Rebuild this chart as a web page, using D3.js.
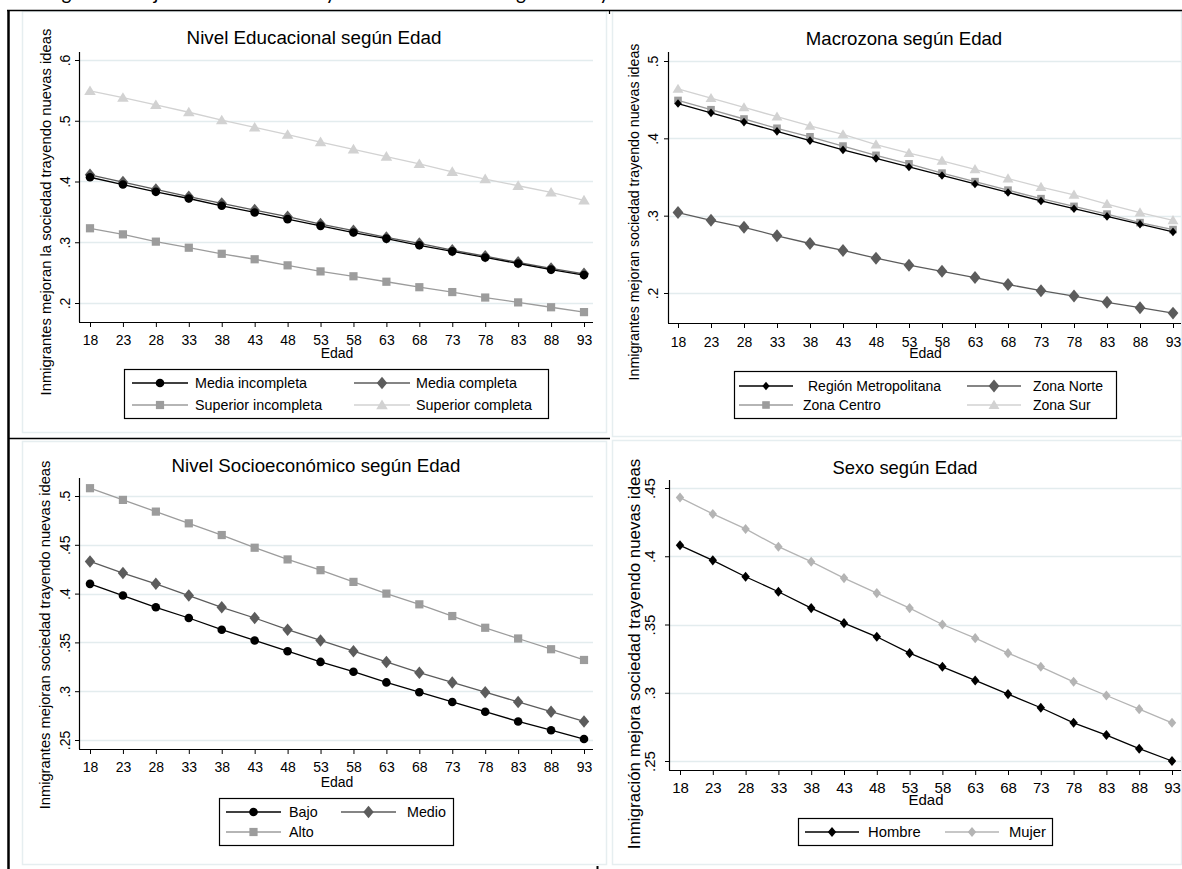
<!DOCTYPE html>
<html><head><meta charset="utf-8">
<script src="https://cdn.jsdelivr.net/npm/d3@7"></script>
<style>
html,body{margin:0;padding:0;background:#fff;}
svg{display:block;font-family:"Liberation Sans",Arial,sans-serif;}
</style></head>
<body>
<svg id="chart" width="1182" height="869"></svg>
<script>
// ---------------- DATA ----------------
const ages = [18,23,28,33,38,43,48,53,58,63,68,73,78,83,88,93];

// Panel 1: Nivel Educacional según Edad
const eduTitle = "Nivel Educacional según Edad";
const eduYLabel = "Inmigrantes mejoran la sociedad trayendo nuevas ideas";
const eduYTicks = [0.2,0.3,0.4,0.5,0.6];
const eduYTickLabels = [".2",".3",".4",".5",".6"];
const eduNames = ["Media incompleta","Media completa","Superior incompleta","Superior completa"];
const eduMediaIncompleta  = [.407,.395,.383,.372,.360,.349,.338,.327,.316,.306,.295,.285,.275,.265,.255,.246];
const eduMediaCompleta    = [.411,.399,.387,.375,.364,.353,.342,.330,.319,.308,.298,.287,.277,.267,.257,.248];
const eduSuperiorIncompleta = [.323,.313,.301,.291,.281,.272,.262,.252,.244,.235,.226,.218,.209,.201,.193,.185];
const eduSuperiorCompleta = [.549,.538,.526,.514,.501,.489,.477,.465,.453,.441,.429,.416,.404,.393,.382,.369];

// Panel 2: Macrozona según Edad
const macroTitle = "Macrozona según Edad";
const macroYLabel = "Inmigrantes mejoran sociedad trayendo nuevas ideas";
const macroYTicks = [0.2,0.3,0.4,0.5];
const macroYTickLabels = [".2",".3",".4",".5"];
const macroNames = ["Región Metropolitana","Zona Norte","Zona Centro","Zona Sur"];
const macroMetropolitana = [.445,.433,.421,.409,.397,.385,.374,.363,.352,.341,.330,.319,.309,.299,.289,.279];
const macroNorte  = [.304,.294,.285,.274,.264,.255,.245,.236,.228,.220,.211,.203,.196,.188,.181,.174];
const macroCentro = [.449,.437,.425,.413,.402,.390,.378,.367,.355,.344,.333,.322,.312,.302,.291,.282];
const macroSur    = [.464,.452,.440,.428,.416,.405,.392,.381,.371,.360,.348,.337,.327,.315,.304,.294];

// Panel 3: Nivel Socioeconómico según Edad
const nseTitle = "Nivel Socioeconómico según Edad";
const nseYLabel = "Inmigrantes mejoran sociedad trayendo nuevas ideas";
const nseYTicks = [0.25,0.3,0.35,0.4,0.45,0.5];
const nseYTickLabels = [".25",".3",".35",".4",".45",".5"];
const nseNames = ["Bajo","Medio","Alto"];
const nseBajo  = [.410,.398,.386,.375,.363,.352,.341,.330,.320,.309,.299,.289,.279,.269,.260,.251];
const nseMedio = [.433,.421,.410,.398,.386,.375,.363,.352,.341,.330,.319,.309,.299,.289,.279,.269];
const nseAlto  = [.508,.496,.484,.472,.460,.447,.435,.424,.412,.400,.389,.377,.365,.354,.343,.332];

// Panel 4: Sexo según Edad
const sexTitle = "Sexo según Edad";
const sexYLabel = "Inmigración mejora sociedad trayendo nuevas ideas";
const sexYTicks = [0.25,0.3,0.35,0.4,0.45];
const sexYTickLabels = [".25",".3",".35",".4",".45"];
const sexNames = ["Hombre","Mujer"];
const sexHombre = [.408,.397,.385,.374,.362,.351,.341,.329,.319,.309,.299,.289,.278,.269,.259,.250];
const sexMujer  = [.443,.431,.420,.407,.396,.384,.373,.362,.350,.340,.329,.319,.308,.298,.288,.278];

const xLabel = "Edad";
const captionText = "Figura 9: Mejoran la sociedad trayendo nuevas ideas según Edad y variables";

// ---------------- STYLES / LAYOUT ----------------
const C_BLACK = "#000000", C_DARK = "#5c5c5c", C_MID = "#9c9c9c", C_LIGHT = "#d2d2d2", C_MUJER = "#b4b4b4";
const GRID = "#e3ecee", FRAME = "#e6eef0";

const panels = [
  { title: eduTitle, yLabel: eduYLabel, yTicks: eduYTicks, yTickLabels: eduYTickLabels,
    frame:{x:22,y:11,w:585,h:422}, left:80, right:593, top:52, bottom:322, x0:90, x1:584,
    yA:[0.2,303], yB:[0.6,60], titleX:314, titleY:44, titleSize:18.8,
    yTitleX:46, yTitleY:212, yTitleSize:14.8, tickSize:14, yTickOff:15, xLabY:345, edadY:358, edadSize:14,
    series:[
      {name:eduNames[0], values:eduMediaIncompleta, color:C_BLACK, marker:"circle", size:4.3},
      {name:eduNames[1], values:eduMediaCompleta, color:C_DARK, marker:"diamond", size:5.2},
      {name:eduNames[2], values:eduSuperiorIncompleta, color:C_MID, marker:"square", size:4.1},
      {name:eduNames[3], values:eduSuperiorCompleta, color:C_LIGHT, marker:"triangle", size:5.5}
    ],
    legend:{x:124,y:369,w:424,h:49, rows:[383,405], cols:[132,354], lineLen:56, textOff:[63,62], cols2:2, fontSize:14.3}
  },
  { title: macroTitle, yLabel: macroYLabel, yTicks: macroYTicks, yTickLabels: macroYTickLabels,
    frame:{x:612,y:11,w:570,h:426}, left:669, right:1181, top:52, bottom:323, x0:678, x1:1173,
    yA:[0.2,293], yB:[0.5,61], titleX:904, titleY:45, titleSize:18.6,
    yTitleX:634, yTitleY:212, yTitleSize:14.2, tickSize:14, yTickOff:16, xLabY:347, edadY:358, edadSize:14,
    series:[
      {name:macroNames[0], values:macroMetropolitana, color:C_BLACK, marker:"diamond", size:3.6},
      {name:macroNames[1], values:macroNorte, color:C_DARK, marker:"diamond", size:5.4},
      {name:macroNames[2], values:macroCentro, color:C_MID, marker:"square", size:3.8},
      {name:macroNames[3], values:macroSur, color:C_LIGHT, marker:"triangle", size:5.2}
    ],
    legend:{x:734,y:371,w:382,h:47, rows:[386,405], cols:[739,967], lineLen:54, textOff:[69,66], cols2:2, fontSize:14,
            textOffRow:[[69,66],[64,66]]}
  },
  { title: nseTitle, yLabel: nseYLabel, yTicks: nseYTicks, yTickLabels: nseYTickLabels,
    frame:{x:22,y:441,w:585,h:424}, left:80, right:593, top:478, bottom:749, x0:90, x1:584,
    yA:[0.25,740], yB:[0.5,496], titleX:316, titleY:472, titleSize:18.7,
    yTitleX:45, yTitleY:635, yTitleSize:14.7, tickSize:14, yTickOff:15, xLabY:772, edadY:787, edadSize:14,
    series:[
      {name:nseNames[0], values:nseBajo, color:C_BLACK, marker:"circle", size:4.3},
      {name:nseNames[1], values:nseMedio, color:C_DARK, marker:"diamond", size:5.2},
      {name:nseNames[2], values:nseAlto, color:C_MID, marker:"square", size:4.1}
    ],
    legend:{x:219,y:798,w:234,h:47, rows:[812,832], cols:[226,341], lineLen:55, textOff:[63,66], cols2:2, fontSize:14.3}
  },
  { title: sexTitle, yLabel: sexYLabel, yTicks: sexYTicks, yTickLabels: sexYTickLabels,
    frame:{x:612,y:440,w:570,h:425}, left:670, right:1181, top:480, bottom:770, x0:680, x1:1172,
    yA:[0.25,761], yB:[0.45,488], titleX:905, titleY:474, titleSize:18.4,
    yTitleX:634, yTitleY:654, yTitleSize:16.9, tickSize:15, yTickOff:20, xLabY:793, edadY:805, edadSize:15,
    series:[
      {name:sexNames[0], values:sexHombre, color:C_BLACK, marker:"diamond", size:4.2},
      {name:sexNames[1], values:sexMujer, color:C_MUJER, marker:"diamond", size:4.2}
    ],
    legend:{x:798,y:818,w:254,h:27, rows:[832], cols:[805,945], lineLen:54, textOff:[63,64], cols2:2, fontSize:14.8}
  }
];

// ---------------- DRAW ----------------
const svg = d3.select("#chart");

// caption (only the descenders are visible, as in the source page)
svg.append("text").attr("x", 47).attr("y", 0).attr("font-family","Carlito, 'Liberation Sans', sans-serif")
  .attr("font-size", 21).attr("fill","#000").text(captionText);

function markerPath(type, s) {
  if (type === "circle") return d3.symbol(d3.symbolCircle, Math.PI*s*s)();
  if (type === "square") return `M${-s},${-s}H${s}V${s}H${-s}Z`;
  if (type === "diamond") return `M0,${-s*1.2}L${s},0L0,${s*1.2}L${-s},0Z`;
  if (type === "triangle") return `M0,${-s}L${s*1.05},${s*0.75}L${-s*1.05},${s*0.75}Z`;
}

panels.forEach(p => {
  const g = svg.append("g");
  // image frame
  g.append("rect").attr("x", p.frame.x+0.5).attr("y", p.frame.y+0.5)
    .attr("width", p.frame.w-1).attr("height", p.frame.h-1)
    .attr("fill","#fff").attr("stroke", FRAME).attr("stroke-width",1.5);

  const x = d3.scaleLinear().domain([ages[0], ages[ages.length-1]]).range([p.x0, p.x1]);
  const y = d3.scaleLinear().domain([p.yA[0], p.yB[0]]).range([p.yA[1], p.yB[1]]);

  // gridlines
  g.append("g").selectAll("line").data(p.yTicks).join("line")
    .attr("x1", p.left).attr("x2", p.right)
    .attr("y1", d => Math.round(y(d))+0.5).attr("y2", d => Math.round(y(d))+0.5)
    .attr("stroke", GRID).attr("stroke-width", 1.3);

  // y axis
  const yAxis = d3.axisLeft(y).tickValues(p.yTicks).tickSize(5)
    .tickFormat((d,i) => p.yTickLabels[i]);
  const ya = g.append("g").attr("transform", `translate(${p.left},0)`).call(yAxis);
  ya.select(".domain").attr("d", `M-0.5,${p.bottom}V${p.top}`).attr("stroke","#000").attr("stroke-width",1.2);
  ya.selectAll(".tick line").attr("stroke","#000").attr("stroke-width",1);
  ya.selectAll(".tick text")
    .attr("x", 0).attr("dy", null)
    .attr("transform", `translate(${-p.yTickOff},0) rotate(-90)`)
    .attr("text-anchor","middle").attr("dy","0.36em")
    .attr("font-size", p.tickSize).attr("font-family","Liberation Sans, Arial, sans-serif").attr("fill","#000");

  // x axis
  const xAxis = d3.axisBottom(x).tickValues(ages).tickSize(5).tickFormat(d3.format("d"));
  const xa = g.append("g").attr("transform", `translate(0,${p.bottom})`).call(xAxis);
  xa.select(".domain").attr("d", `M${p.left-1},0.5H${p.right}`).attr("stroke","#000").attr("stroke-width",1.2);
  xa.selectAll(".tick line").attr("stroke","#000").attr("stroke-width",1);
  xa.selectAll(".tick text").attr("y", p.xLabY - p.bottom).attr("dy", null)
    .attr("font-size", p.tickSize).attr("font-family","Liberation Sans, Arial, sans-serif").attr("fill","#000");

  // titles
  g.append("text").attr("x", p.titleX).attr("y", p.titleY).attr("text-anchor","middle")
    .attr("font-size", p.titleSize).attr("fill","#000").text(p.title);
  g.append("text").attr("x", (p.x0+p.x1)/2).attr("y", p.edadY).attr("text-anchor","middle")
    .attr("font-size", p.edadSize).attr("fill","#000").text(xLabel);
  g.append("text").attr("transform", `translate(${p.yTitleX + p.yTitleSize*0.36},${p.yTitleY}) rotate(-90)`)
    .attr("text-anchor","middle").attr("font-size", p.yTitleSize).attr("fill","#000").text(p.yLabel);

  // series
  const line = d3.line().x((d,i) => x(ages[i])).y(d => y(d));
  p.series.slice().reverse().forEach(s => {
    g.append("path").datum(s.values).attr("d", line).attr("fill","none")
      .attr("stroke", s.color).attr("stroke-width", 1.3);
    g.append("g").selectAll("path").data(s.values).join("path")
      .attr("transform", (d,i) => `translate(${x(ages[i])},${y(d)})`)
      .attr("d", markerPath(s.marker, s.size)).attr("fill", s.color).attr("stroke","none");
  });

  // legend
  const L = p.legend;
  g.append("rect").attr("x", L.x+0.5).attr("y", L.y+0.5).attr("width", L.w).attr("height", L.h)
    .attr("fill","#fff").attr("stroke","#000").attr("stroke-width",1.2);
  p.series.forEach((s, i) => {
    const r = Math.floor(i / L.cols2), c = i % L.cols2;
    const lx = L.cols[c], ly = L.rows[r];
    g.append("line").attr("x1", lx).attr("x2", lx + L.lineLen).attr("y1", ly).attr("y2", ly)
      .attr("stroke", s.color).attr("stroke-width", 1.5);
    g.append("path").attr("transform", `translate(${lx + L.lineLen/2},${ly})`)
      .attr("d", markerPath(s.marker, s.size)).attr("fill", s.color);
    const off = L.textOffRow ? L.textOffRow[r][c] : L.textOff[c];
    g.append("text").attr("x", lx + off).attr("y", ly + L.fontSize*0.36)
      .attr("font-size", L.fontSize).attr("fill","#000").text(s.name);
  });
});

// table borders of the host document
const borders = svg.append("g").attr("stroke","#000");
borders.append("line").attr("x1",7).attr("x2",1182).attr("y1",10.5).attr("y2",10.5).attr("stroke-width",1.5);
borders.append("line").attr("x1",8.5).attr("x2",8.5).attr("y1",10).attr("y2",869).attr("stroke-width",2.5);
borders.append("line").attr("x1",8).attr("x2",610).attr("y1",438.5).attr("y2",438.5).attr("stroke-width",1.3);
borders.append("line").attr("x1",609.5).attr("x2",609.5).attr("y1",10).attr("y2",14).attr("stroke-width",1.2);
borders.append("line").attr("x1",597.5).attr("x2",597.5).attr("y1",866).attr("y2",869).attr("stroke-width",2);
</script>
</body></html>
